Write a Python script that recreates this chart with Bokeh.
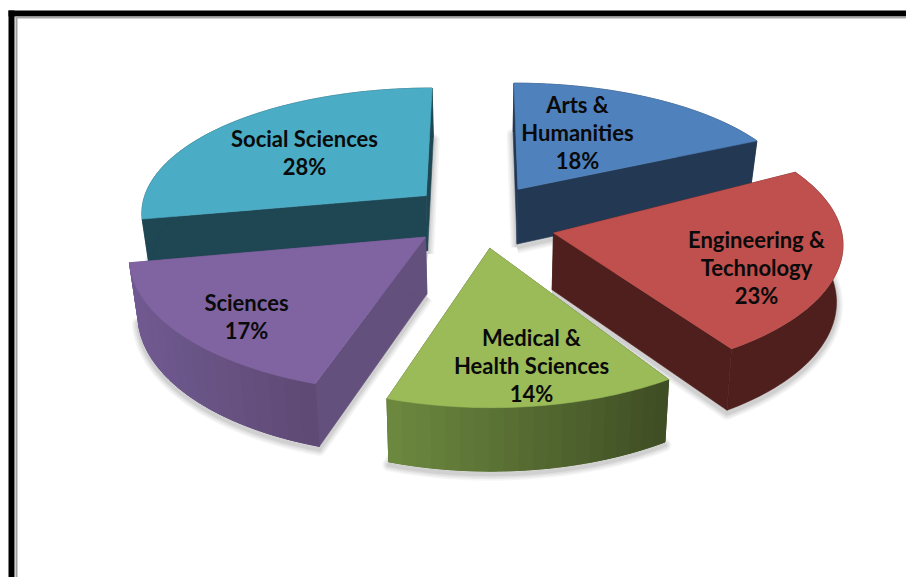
import math
from bokeh.plotting import figure
from bokeh.embed import file_html
from bokeh.resources import INLINE
from bokeh.core.properties import value

# ---- data ----
categories = ["Arts & Humanities", "Engineering & Technology", "Medical & Health Sciences", "Sciences", "Social Sciences"]
shares = [18, 23, 14, 17, 28]
label_rows = [["Arts &", "Humanities"], ["Engineering &", "Technology"], ["Medical &", "Health Sciences"], ["Sciences"], ["Social Sciences"]]

# ---- styles ----
top_colors = ["#4F81BD", "#C0504D", "#9BBB59", "#8064A2", "#4BACC6"]
wall_left = ["#233852", "#4E1F1D", "#6E8B40", "#705A91", "#1E4653"]
wall_right = ["#233852", "#4E1F1D", "#3F4E24", "#5F4A75", "#1E4653"]
cut_colors = ["#233852", "#4E1F1D", "#3F4E24", "#64507C", "#1E4653"]
label_pos = [(577, 104), (756, 239), (531, 337), (246, 302), (304, 138)]
apex_nudge = [(0, 0), (0.01, -0.065), (0, 0), (0, 0), (0, 0)]
wall_shrink = [0.975, 0.982, 0.98, 0.975, 0.975]
draw_order = [4, 0, 3, 1, 2]

# projection of the pie plane onto the page
CX, CY = 480, 215
AX, KX = 287.0, 0.1235
AY, KY = 127.5, 0.1377
EXPLODE = 0.25
FONT = "Lato"
FONT_PX = "22px"
ROW = 28


def project(u, v):
    return CX + AX * u / (1 + KX * v), CY - AY * v / (1 + KY * v)


def drop(u, v, shrink):
    x, y = project(u, v)
    return CX + (x - CX) * shrink, y + 56 - 6 * v


def mix(c1, c2, t):
    a = [int(c1[i:i + 2], 16) for i in (1, 3, 5)]
    b = [int(c2[i:i + 2], 16) for i in (1, 3, 5)]
    return "#%02x%02x%02x" % tuple(round(p + (q - p) * t) for p, q in zip(a, b))


p = figure(width=906, height=577, x_range=(0, 906), y_range=(577, 0),
           output_backend="svg", toolbar_location=None, min_border=0,
           outline_line_color=None, background_fill_color="white")
p.axis.visible = False
p.grid.visible = False

# frame
p.quad(left=[8, 8], right=[906, 14], top=[10, 10], bottom=[16, 577], fill_color="black", line_color=None)
p.quad(left=[15], right=[17], top=[16], bottom=[577], fill_color="#a0a0a0", line_color=None)
p.quad(left=[15], right=[906], top=[16], bottom=[18], fill_color="#a8a8a8", line_color=None)

total = sum(shares)
angle = 0.0
spans = []
for s in shares:
    spans.append((angle, angle + s / total * 2 * math.pi))
    angle = spans[-1][1]

for i in draw_order:
    a0, a1 = spans[i]
    mid = (a0 + a1) / 2
    ou, ov = EXPLODE * math.sin(mid), EXPLODE * math.cos(mid)
    m = 60
    sh = wall_shrink[i]
    arc = [(ou + math.sin(a0 + (a1 - a0) * j / m), ov + math.cos(a0 + (a1 - a0) * j / m)) for j in range(m + 1)]
    ax, ay = ou + apex_nudge[i][0], ov + apex_nudge[i][1]
    corners = [(ax, ay)] + arc

    # soft shadow under the bottom outline
    bottom = [drop(u, v, sh) for u, v in corners] + [drop(ax, ay, sh)]
    for lw, al in ((13, .05), (10, .06), (7, .07), (4, .09)):
        p.line([q[0] for q in bottom], [q[1] + 3 for q in bottom], line_color="#404040", line_alpha=al,
               line_width=lw, line_join="round")

    # cut faces
    xs, ys, fills = [], [], []
    for (u, v) in (arc[0], arc[-1]):
        t1, t2, b2, b1 = project(ax, ay), project(u, v), drop(u, v, sh), drop(ax, ay, sh)
        xs.append([t1[0], t2[0], b2[0], b1[0]])
        ys.append([t1[1], t2[1], b2[1], b1[1]])
        fills.append(cut_colors[i])
    p.patches(xs, ys, fill_color=fills, line_color=fills, line_width=0.6)

    # outer wall: a solid base, then vertical bands shaded left to right
    pts = [(project(u, v), drop(u, v, sh)) for u, v in arc]
    wx = [q[0][0] for q in pts] + [q[1][0] for q in reversed(pts)]
    wy = [q[0][1] for q in pts] + [q[1][1] for q in reversed(pts)]
    base = mix(wall_left[i], wall_right[i], .5)
    p.patch(wx, wy, fill_color=base, line_color=base, line_width=0.6)
    if wall_left[i] != wall_right[i]:
        xmin = min(q[0][0] for q in pts)
        xmax = max(q[0][0] for q in pts)
        xs, ys, fills = [], [], []
        for j in range(0, m, 3):
            seg = pts[j:j + 4]
            xs.append([q[0][0] for q in seg] + [q[1][0] for q in reversed(seg)])
            ys.append([q[0][1] for q in seg] + [q[1][1] for q in reversed(seg)])
            fills.append(mix(wall_left[i], wall_right[i], (seg[0][0][0] - xmin) / (xmax - xmin)))
        p.patches(xs, ys, fill_color=fills, line_color=fills, line_width=1.0)

    top = [project(u, v) for u, v in corners]
    p.patch([q[0] for q in top], [q[1] for q in top], fill_color=top_colors[i], line_color=top_colors[i], line_width=0.6)

# labels
tx, ty, tt = [], [], []
for i, rows in enumerate(label_rows):
    x, y = label_pos[i]
    for r, row in enumerate(rows + [f"{shares[i]}%"]):
        tx.append(x)
        ty.append(y + r * ROW)
        tt.append(row)
p.text(tx, ty, text=tt, text_font=value(FONT), text_font_style="bold", text_font_size=FONT_PX,
       text_align="center", text_baseline="middle", text_color="#0a0a0a")

open("out.html", "w").write(file_html(p, INLINE))
